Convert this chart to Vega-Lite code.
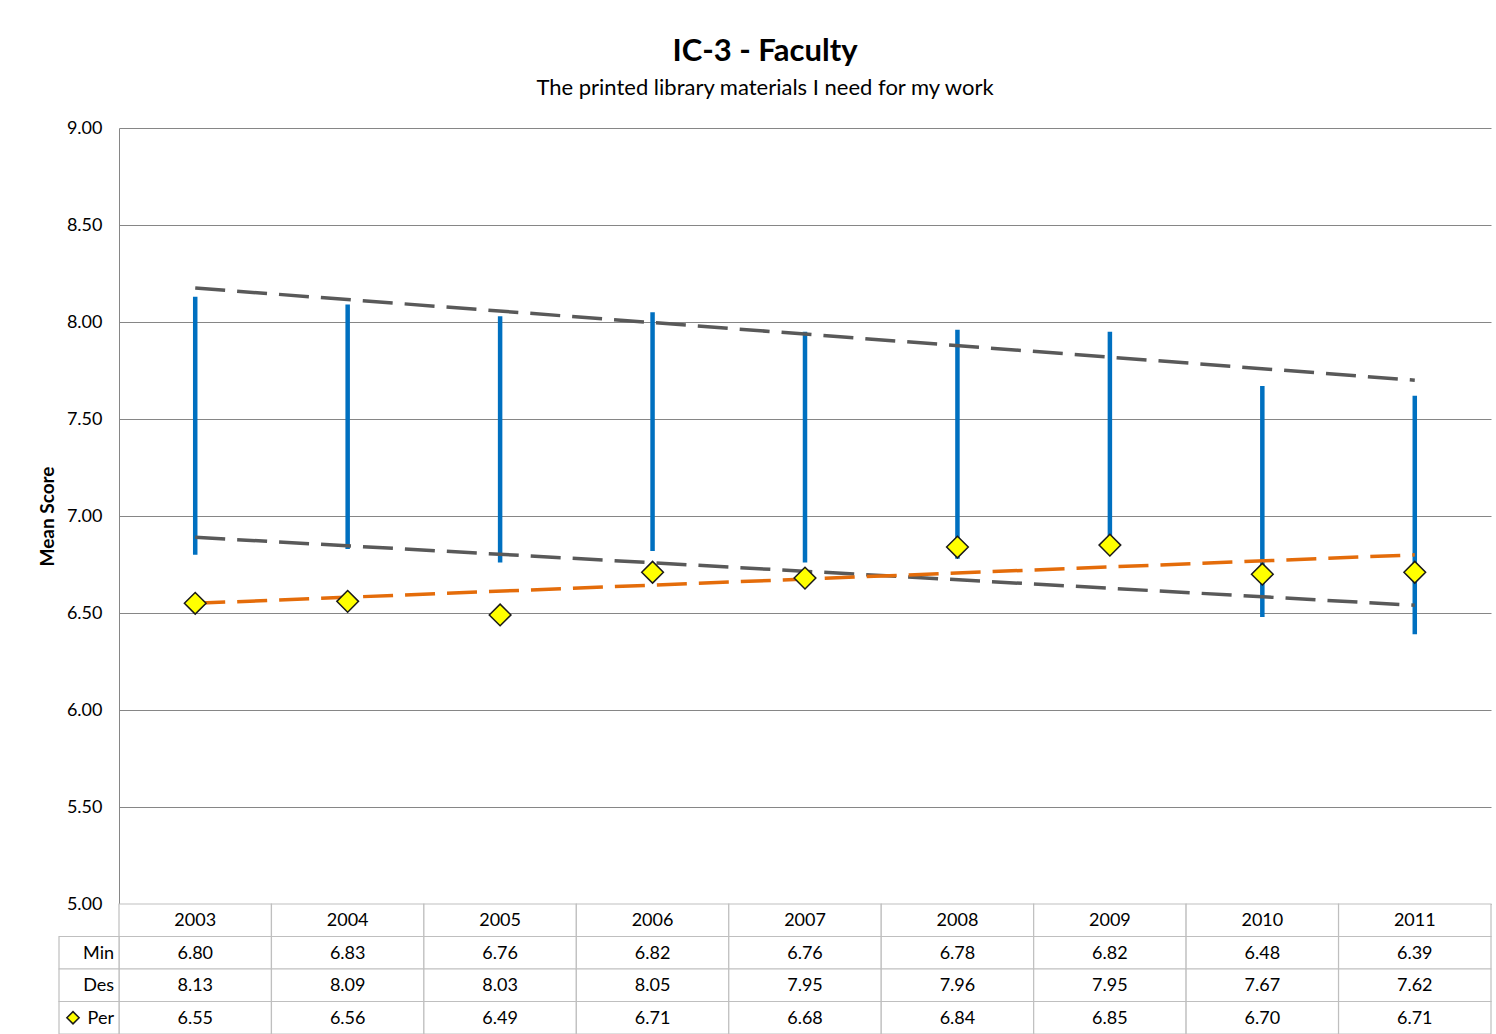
{
  "$schema": "https://vega.github.io/schema/vega-lite/v6.json",
  "background": "white",
  "padding": {"left": 38, "top": 36, "right": 4, "bottom": 0},
  "spacing": 0,
  "bounds": "flush",
  "config": {
    "font": "Lato",
    "view": {"stroke": null},
    "concat": {"spacing": 0}
  },
  "title": {
    "text": "IC-3 - Faculty",
    "subtitle": "The printed library materials I need for my work",
    "anchor": "middle",
    "frame": "bounds",
    "font": "Lato",
    "fontSize": 31,
    "fontWeight": "bold",
    "color": "#000000",
    "subtitleFont": "Lato",
    "subtitleFontSize": 22,
    "subtitleColor": "#000000",
    "subtitlePadding": 10,
    "offset": 19
  },
  "datasets": {
    "main": [
      {"year": 2003, "Min": 6.80, "Des": 8.13, "Per": 6.55},
      {"year": 2004, "Min": 6.83, "Des": 8.09, "Per": 6.56},
      {"year": 2005, "Min": 6.76, "Des": 8.03, "Per": 6.49},
      {"year": 2006, "Min": 6.82, "Des": 8.05, "Per": 6.71},
      {"year": 2007, "Min": 6.76, "Des": 7.95, "Per": 6.68},
      {"year": 2008, "Min": 6.78, "Des": 7.96, "Per": 6.84},
      {"year": 2009, "Min": 6.82, "Des": 7.95, "Per": 6.85},
      {"year": 2010, "Min": 6.48, "Des": 7.67, "Per": 6.70},
      {"year": 2011, "Min": 6.39, "Des": 7.62, "Per": 6.71}
    ],
    "trend": [
      {"year": 2003, "series": "Des trend", "value": 8.175},
      {"year": 2011, "series": "Des trend", "value": 7.70},
      {"year": 2003, "series": "Min trend", "value": 6.89},
      {"year": 2011, "series": "Min trend", "value": 6.54},
      {"year": 2003, "series": "Per trend", "value": 6.55},
      {"year": 2011, "series": "Per trend", "value": 6.80}
    ],
    "rows": [
      {"row": "Min"},
      {"row": "Des"},
      {"row": "Per"}
    ]
  },
  "vconcat": [
    {
      "width": 1372,
      "height": 776,
      "encoding": {
        "x": {
          "field": "year",
          "type": "ordinal",
          "scale": {"domain": [2003, 2004, 2005, 2006, 2007, 2008, 2009, 2010, 2011], "paddingInner": 0, "paddingOuter": 0},
          "axis": null
        }
      },
      "layer": [
        {
          "data": {"name": "main"},
          "mark": {"type": "rule", "color": "#0070C0", "strokeWidth": 4.5},
          "encoding": {
            "y": {
              "field": "Min",
              "type": "quantitative",
              "scale": {"domain": [5, 9], "nice": false, "zero": false},
              "axis": {
                "title": "Mean Score",
                "titleFont": "Lato",
                "titleFontSize": 19,
                "titleFontWeight": "bold",
                "titleColor": "#000000",
                "titlePadding": 9,
                "values": [5, 5.5, 6, 6.5, 7, 7.5, 8, 8.5, 9],
                "format": ".2f",
                "labelFont": "Lato",
                "labelFontSize": 18,
                "labelColor": "#000000",
                "labelPadding": 17,
                "ticks": false,
                "domainColor": "#868686",
                "gridColor": "#868686",
                "gridWidth": 1
              }
            },
            "y2": {"field": "Des"}
          }
        },
        {
          "data": {"name": "trend"},
          "mark": {"type": "line", "strokeWidth": 3.5, "strokeDash": [30, 12]},
          "encoding": {
            "y": {"field": "value", "type": "quantitative"},
            "color": {
              "field": "series",
              "type": "nominal",
              "scale": {"domain": ["Des trend", "Min trend", "Per trend"], "range": ["#595959", "#595959", "#E46C0A"]},
              "legend": null
            }
          }
        },
        {
          "data": {"name": "main"},
          "mark": {"type": "point", "shape": "diamond", "filled": true, "fill": "#FFFF00", "stroke": "#1a1a1a", "strokeWidth": 1.5, "size": 470, "opacity": 1},
          "encoding": {
            "y": {"field": "Per", "type": "quantitative"}
          }
        }
      ]
    },
    {
      "width": 1372,
      "height": 130,
      "resolve": {"scale": {"x": "independent"}},
      "layer": [
        {
          "data": {"name": "main"},
          "mark": {"type": "rect", "fill": "white", "stroke": "#BFBFBF", "strokeWidth": 1.2},
          "encoding": {
            "x": {"field": "year", "type": "ordinal", "scale": {"paddingInner": 0, "paddingOuter": 0}, "axis": null},
            "y": {"datum": "Year", "type": "nominal", "scale": {"domain": ["Year", "Min", "Des", "Per"], "paddingInner": 0, "paddingOuter": 0}, "axis": null}
          }
        },
        {
          "data": {"name": "main"},
          "mark": {"type": "text", "fontSize": 18, "font": "Lato", "color": "#000000", "baseline": "middle", "dy": 1},
          "encoding": {
            "x": {"field": "year", "type": "ordinal", "scale": {"paddingInner": 0, "paddingOuter": 0}, "axis": null},
            "y": {"datum": "Year", "type": "nominal", "axis": null},
            "text": {"field": "year", "type": "nominal"}
          }
        },
        {
          "data": {"name": "main"},
          "transform": [{"fold": ["Min", "Des", "Per"], "as": ["row", "val"]}],
          "mark": {"type": "rect", "fill": "white", "stroke": "#BFBFBF", "strokeWidth": 1.2},
          "encoding": {
            "x": {"field": "year", "type": "ordinal", "scale": {"paddingInner": 0, "paddingOuter": 0}, "axis": null},
            "y": {"field": "row", "type": "nominal", "axis": null}
          }
        },
        {
          "data": {"name": "main"},
          "transform": [{"fold": ["Min", "Des", "Per"], "as": ["row", "val"]}],
          "mark": {"type": "text", "fontSize": 18, "font": "Lato", "color": "#000000", "baseline": "middle", "dy": 1},
          "encoding": {
            "x": {"field": "year", "type": "ordinal", "scale": {"paddingInner": 0, "paddingOuter": 0}, "axis": null},
            "y": {"field": "row", "type": "nominal", "axis": null},
            "text": {"field": "val", "type": "quantitative", "format": ".2f"}
          }
        },
        {
          "data": {"name": "rows"},
          "mark": {"type": "rect", "fill": "white", "stroke": "#BFBFBF", "strokeWidth": 1.2},
          "encoding": {
            "x": {"datum": "lab", "type": "nominal", "scale": {"domain": ["lab"], "range": [-60, 0], "paddingInner": 0, "paddingOuter": 0}, "axis": null},
            "y": {"field": "row", "type": "nominal", "axis": null}
          }
        },
        {
          "data": {"name": "rows"},
          "mark": {"type": "text", "fontSize": 18, "font": "Lato", "color": "#000000", "baseline": "middle", "align": "right", "dx": 25, "dy": 1},
          "encoding": {
            "x": {"datum": "lab", "type": "nominal", "scale": {"domain": ["lab"], "range": [-60, 0], "paddingInner": 0, "paddingOuter": 0}, "axis": null},
            "y": {"field": "row", "type": "nominal", "axis": null},
            "text": {"field": "row", "type": "nominal"}
          }
        },
        {
          "data": {"name": "rows"},
          "transform": [{"filter": "datum.row === 'Per'"}],
          "mark": {"type": "point", "shape": "diamond", "filled": true, "fill": "#FFFF00", "stroke": "#1a1a1a", "strokeWidth": 1.5, "size": 150, "opacity": 1, "xOffset": -16},
          "encoding": {
            "x": {"datum": "lab", "type": "nominal", "scale": {"domain": ["lab"], "range": [-60, 0], "paddingInner": 0, "paddingOuter": 0}, "axis": null},
            "y": {"field": "row", "type": "nominal", "axis": null}
          }
        }
      ]
    }
  ]
}
